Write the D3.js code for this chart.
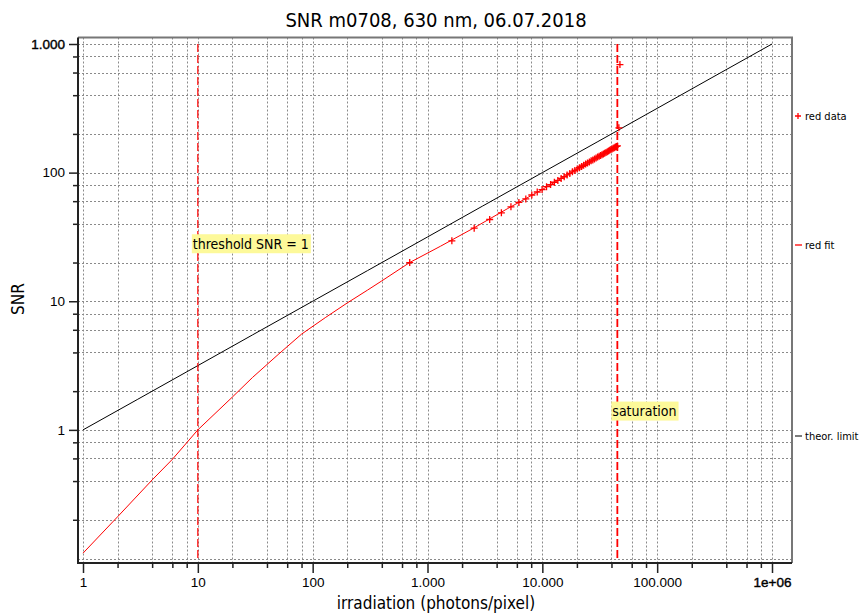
<!DOCTYPE html>
<html>
<head>
<meta charset="utf-8">
<script src="https://cdn.jsdelivr.net/npm/d3@7"></script>
<style>
  body { margin: 0; background: #fff; }
  svg { display: block; font-family: "DejaVu Sans Condensed", "DejaVu Sans", sans-serif; font-stretch: condensed; }
</style>
</head>
<body>
<div id="chart"></div>
<script>
// tick values and labels
const xTicks = [1, 10, 100, 1000, 10000, 100000, 1000000];
const xTickLabels = ["1", "10", "100", "1.000", "10.000", "100.000", "1e+06"];
const yTicks = [1, 10, 100, 1000];
const yTickLabels = ["1", "10", "100", "1.000"];
const minorSteps = [2, 4, 6, 8];

// red data (irradiation, SNR)
const dataX = [700, 1630, 2550, 3480, 4400, 5330, 6250, 7180, 8100, 9030, 9950, 10880, 11800, 12730,
  13650, 14580, 15500, 16430, 17350, 18280, 19200, 20130, 21050, 21980, 22900, 23830, 24750, 25680,
  26600, 27530, 28450, 29380, 30300, 31230, 32150, 33080, 34000, 34930, 35850, 36780, 37700, 38630,
  39550, 40480, 41400, 42330, 43250, 44180, 45100, 46400, 47400];
const dataY = [20.0, 29.5, 37.0, 43.2, 48.7, 54.2, 58.7, 62.4, 67.0, 70.7, 73.8, 77.7, 80.8, 84.2,
  87.0, 90.1, 92.9, 95.9, 98.5, 101.4, 103.9, 106.6, 109.1, 111.7, 114.1, 116.6, 118.9, 121.1,
  123.5, 125.6, 127.7, 129.9, 132.0, 133.9, 135.9, 137.9, 139.8, 141.7, 143.5, 145.4, 147.4, 149.1,
  151.0, 152.7, 154.5, 156.1, 158.1, 159.8, 161.4, 223, 692];

// red fit
const fitX = [1, 2, 4, 6, 10, 20, 30, 50, 80, 130, 200, 300, 400, 700, 1300, 2500, 5000, 10000, 20000, 45100];
const fitY = [0.11, 0.211, 0.408, 0.59, 1.0, 1.8, 2.56, 3.85, 5.55, 7.5, 9.7, 12.2, 14.4, 20.0, 26.8, 36.9, 52.6, 74, 106, 161.4];

// theoretical limit
const theoX = [1, 3, 10, 30, 100, 300, 1000, 3000, 10000, 30000, 100000, 300000, 1000000];
const theoY = [1, 1.73, 3.16, 5.48, 10, 17.3, 31.6, 54.8, 100, 173, 316, 548, 1000];

// markers
const thresholdX = 10;
const saturationX = 45000;
const notes = [
  { text: "threshold SNR = 1", x: 10, y: 28 },
  { text: "saturation", x: 45000, y: 1.4 }
];
const legendItems = ["red data", "red fit", "theor. limit"];

const width = 861, height = 615;
const frame = { left: 78, top: 37.5, right: 792, bottom: 563 };

const x = d3.scaleLog().domain([1, 1e6]).range([83, 772]);
const y = d3.scaleLog().domain([0.1, 1000]).range([558.5, 44]);

const svg = d3.select("#chart").append("svg")
  .attr("width", width)
  .attr("height", height);

// grid values: decades plus 2,4,6,8 multiples
const xGrid = [];
xTicks.forEach((t, i) => {
  xGrid.push(t);
  if (i < xTicks.length - 1) minorSteps.forEach(m => xGrid.push(t * m));
});
const yGrid = [0.1];
minorSteps.forEach(m => yGrid.push(0.1 * m));
yTicks.forEach((t, i) => {
  yGrid.push(t);
  if (i < yTicks.length - 1) minorSteps.forEach(m => yGrid.push(t * m));
});

const grid = svg.append("g")
  .attr("stroke", "#8a8a8a")
  .attr("stroke-width", 1)
  .attr("stroke-dasharray", "2,2");
grid.selectAll(".gx").data(xGrid).join("line")
  .attr("x1", d => Math.round(x(d)) + 0.5).attr("x2", d => Math.round(x(d)) + 0.5)
  .attr("y1", frame.top).attr("y2", frame.bottom);
grid.selectAll(".gy").data(yGrid).join("line")
  .attr("y1", d => Math.round(y(d)) + 0.5).attr("y2", d => Math.round(y(d)) + 0.5)
  .attr("x1", frame.left).attr("x2", frame.right);

// frame top/right
svg.append("path")
  .attr("d", `M${frame.left},${frame.top}H${frame.right}V${frame.bottom}`)
  .attr("fill", "none")
  .attr("stroke", "#777")
  .attr("stroke-width", 2);

// axes
const xAxis = svg.append("g")
  .attr("transform", `translate(0,${frame.bottom})`)
  .call(d3.axisBottom(x).tickValues(xGrid).tickSize(10).tickSizeOuter(0)
    .tickFormat(d => { const i = xTicks.indexOf(d); return i >= 0 ? xTickLabels[i] : ""; }));
xAxis.select(".domain").remove();
xAxis.selectAll(".tick line").attr("stroke", "#222").attr("stroke-width", 1.5)
  .attr("y2", d => xTicks.includes(d) ? 10 : 5);
xAxis.selectAll(".tick text")
  .attr("y", 14)
  .style("font-size", "13.5px")
  .style("fill", "#000");

const yAxis = svg.append("g")
  .attr("transform", `translate(${frame.left},0)`)
  .call(d3.axisLeft(y).tickValues(yGrid.filter(d => d >= 0.2)).tickSize(9).tickSizeOuter(0)
    .tickFormat(d => { const i = yTicks.indexOf(d); return i >= 0 ? yTickLabels[i] : ""; }));
yAxis.select(".domain").remove();
yAxis.selectAll(".tick line").attr("stroke", "#222").attr("stroke-width", 1.5)
  .attr("x2", d => yTicks.includes(d) ? -9 : -5);
yAxis.selectAll(".tick text")
  .attr("x", -13)
  .style("font-size", "13.5px")
  .style("fill", "#000");

// emphasised end labels
xAxis.selectAll(".tick text").filter(d => d === 1e6).attr("stroke", "#000").attr("stroke-width", 0.4);
yAxis.selectAll(".tick text").filter(d => d === 1000).attr("stroke", "#000").attr("stroke-width", 0.4);

// axis lines (left, bottom)
svg.append("path")
  .attr("d", `M${frame.left},${frame.top}V${frame.bottom}H${frame.right}`)
  .attr("fill", "none")
  .attr("stroke", "#222")
  .attr("stroke-width", 2);

// theoretical limit
const line = d3.line().x(d => x(d[0])).y(d => y(d[1]));
svg.append("path")
  .datum(d3.zip(theoX, theoY))
  .attr("d", line)
  .attr("fill", "none")
  .attr("stroke", "#000")
  .attr("stroke-width", 1);

// red fit
svg.append("path")
  .datum(d3.zip(fitX, fitY))
  .attr("d", line)
  .attr("fill", "none")
  .attr("stroke", "#ff0000")
  .attr("stroke-width", 1);

// red data crosses
svg.append("g")
  .selectAll("path")
  .data(d3.zip(dataX, dataY))
  .join("path")
  .attr("d", d => `M${x(d[0]) - 3.5},${y(d[1])}h7M${x(d[0])},${y(d[1]) - 3.5}v7`)
  .attr("stroke", "#ff0000")
  .attr("stroke-width", 1.3);

// threshold / saturation lines
svg.selectAll(".vline")
  .data([thresholdX, saturationX])
  .join("line")
  .attr("x1", d => x(d)).attr("x2", d => x(d))
  .attr("y1", y(1000)).attr("y2", y(0.1))
  .attr("stroke", "#ff0000")
  .attr("stroke-width", (d, i) => i === 0 ? 1.2 : 1.8)
  .attr("stroke-dasharray", "8,3");

// annotations
const note = svg.append("g").selectAll("g").data(notes).join("g")
  .attr("transform", d => `translate(${x(d.x) - 6},${y(d.y)})`);
note.append("text")
  .attr("x", 1)
  .attr("dy", "0.35em")
  .style("font-size", "14px")
  .style("fill", "#000")
  .text(d => d.text);
note.each(function () {
  const g = d3.select(this);
  const bb = g.select("text").node().getBBox();
  g.insert("rect", "text")
    .attr("x", 0)
    .attr("y", -9.5)
    .attr("width", bb.width + 3)
    .attr("height", 19)
    .attr("fill", "#fdf99a");
});

// legend
const legendY = [116, 245, 436];
const legend = svg.append("g").selectAll("g").data(legendItems).join("g")
  .attr("transform", (d, i) => `translate(798,${legendY[i]})`);
legend.append("path")
  .attr("d", (d, i) => i === 0 ? "M-3,0h6M0,-3v6" : "M-3,0h7")
  .attr("stroke", (d, i) => i === 2 ? "#333" : "#ff0000")
  .attr("stroke-width", 1.3);
legend.append("text")
  .attr("x", 7)
  .attr("dy", "0.35em")
  .style("font-size", "11px")
  .style("fill", "#000")
  .text(d => d);

// title and axis titles
svg.append("text")
  .attr("x", 436)
  .attr("y", 27)
  .attr("text-anchor", "middle")
  .style("font-size", "20px")
  .style("fill", "#000")
  .text("SNR m0708, 630 nm, 06.07.2018");

svg.append("text")
  .attr("x", 436)
  .attr("y", 609)
  .attr("text-anchor", "middle")
  .style("font-size", "17px")
  .style("fill", "#000")
  .text("irradiation (photons/pixel)");

svg.append("text")
  .attr("transform", "translate(24,299) rotate(-90)")
  .attr("text-anchor", "middle")
  .style("font-size", "17px")
  .style("fill", "#000")
  .text("SNR");
</script>
</body>
</html>
